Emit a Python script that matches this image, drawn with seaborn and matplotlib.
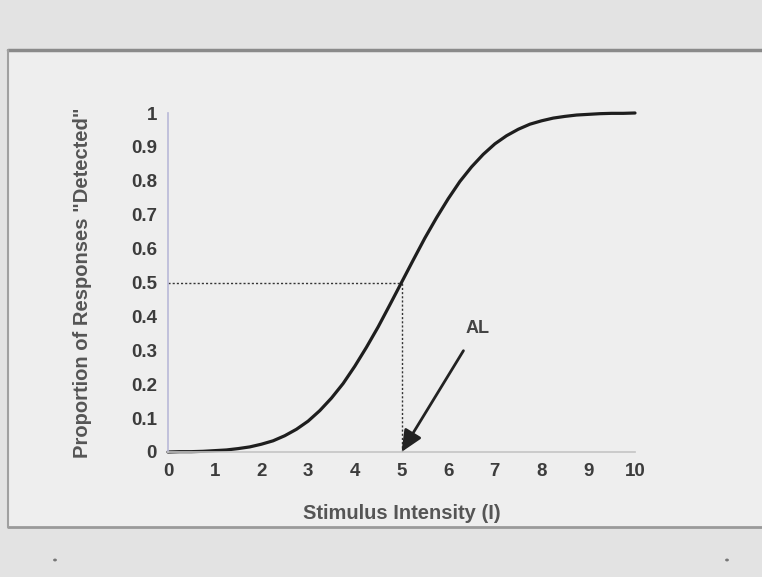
import numpy as np
import pandas as pd
import matplotlib.pyplot as plt
import seaborn as sns
from matplotlib.patches import Rectangle, Circle

# values
intensity = [0, 0.25, 0.5, 0.75, 1, 1.25, 1.5, 1.75, 2, 2.25, 2.5, 2.75, 3, 3.25, 3.5, 3.75,
             4, 4.25, 4.5, 4.75, 5, 5.25, 5.5, 5.75, 6, 6.25, 6.5, 6.75, 7, 7.25, 7.5, 7.75,
             8, 8.25, 8.5, 8.75, 9, 9.25, 9.5, 9.75, 10]
proportion = [0.000, 0.001, 0.001, 0.002, 0.004, 0.006, 0.010, 0.015, 0.023, 0.033, 0.048, 0.067,
              0.091, 0.122, 0.159, 0.202, 0.253, 0.309, 0.369, 0.434, 0.500, 0.566, 0.631, 0.691,
              0.747, 0.798, 0.841, 0.878, 0.909, 0.933, 0.952, 0.967, 0.977, 0.985, 0.990, 0.994,
              0.996, 0.998, 0.999, 0.999, 1.000]
x_ticks = list(range(0, 11))
y_ticks = [0, 0.1, 0.2, 0.3, 0.4, 0.5, 0.6, 0.7, 0.8, 0.9, 1]
y_tick_labels = ['0', '0.1', '0.2', '0.3', '0.4', '0.5', '0.6', '0.7', '0.8', '0.9', '1']
al_point = (5, 0.5)

df = pd.DataFrame({'I': intensity, 'p': proportion})

sns.set_style('white')
plt.rcParams['font.family'] = ['Liberation Sans', 'DejaVu Sans']

fig = plt.figure(figsize=(7.62, 5.77), dpi=100)
fig.patch.set_facecolor('#e3e3e3')

# slide panel
fig.patches.append(Rectangle((8 / 762, 1 - 527 / 577), 1, (527 - 50) / 577,
                             transform=fig.transFigure, facecolor='#eeeeee',
                             edgecolor='none', zorder=-10))
fig.add_artist(plt.Line2D([8 / 762, 1], [1 - 50 / 577] * 2, transform=fig.transFigure,
                          color='#8a8a8a', lw=2.5, zorder=1))
fig.add_artist(plt.Line2D([8 / 762, 1], [1 - 527 / 577] * 2, transform=fig.transFigure,
                          color='#9a9a9a', lw=2, zorder=1))
fig.add_artist(plt.Line2D([8 / 762] * 2, [1 - 527 / 577, 1 - 50 / 577], transform=fig.transFigure,
                          color='#a0a0a0', lw=1.5, zorder=1))
for px in (55, 727):
    fig.patches.append(Circle((px / 762, 1 - 560 / 577), 0.0025, transform=fig.transFigure,
                              facecolor='#777777', edgecolor='none'))

ax = fig.add_axes([168 / 762, 1 - 452 / 577, 467 / 762, 339 / 577])
ax.set_facecolor('none')
ax.set_zorder(5)

sns.lineplot(data=df, x='I', y='p', ax=ax, color='#1e1e1e', lw=2.3, clip_on=False)

ax.plot([0, al_point[0]], [al_point[1], al_point[1]], ls=(0, (1.5, 1.5)), color='#333333', lw=1)
ax.plot([al_point[0], al_point[0]], [0, al_point[1]], ls=(0, (1.5, 1.5)), color='#333333', lw=1)

ax.annotate('AL', xy=(al_point[0], 0.0), xytext=(6.62, 0.365), fontsize=13, color='#444444',
            fontweight='bold', ha='center', va='center',
            arrowprops=dict(arrowstyle='-|>,head_length=1.0,head_width=0.45',
                            color='#222222', lw=2, shrinkA=9, shrinkB=0))

ax.set_xlim(0, 10)
ax.set_ylim(0, 1)
ax.set_xticks(x_ticks)
ax.set_yticks(y_ticks)
ax.set_yticklabels(y_tick_labels)
ax.tick_params(axis='both', direction='in', length=6, width=1, colors='#b4b4bc',
               labelcolor='#3c3c3c', labelsize=13.5)
for lab in ax.get_xticklabels() + ax.get_yticklabels():
    lab.set_fontweight('bold')
ax.tick_params(axis='y', pad=8)
ax.tick_params(axis='x', pad=8)

for s in ['top', 'right']:
    ax.spines[s].set_visible(False)
ax.spines['left'].set_color('#b8b8d8')
ax.spines['bottom'].set_color('#c4c4c4')
ax.spines['left'].set_linewidth(1.2)
ax.spines['bottom'].set_linewidth(1.2)

ax.set_xlabel('Stimulus Intensity (I)', fontsize=14.5, color='#555555', fontweight='bold',
              labelpad=17)
ax.set_ylabel('Proportion of Responses "Detected"', fontsize=14.5, color='#555555',
              fontweight='bold', labelpad=28)

fig.savefig('out.png', dpi=100, facecolor=fig.get_facecolor())
